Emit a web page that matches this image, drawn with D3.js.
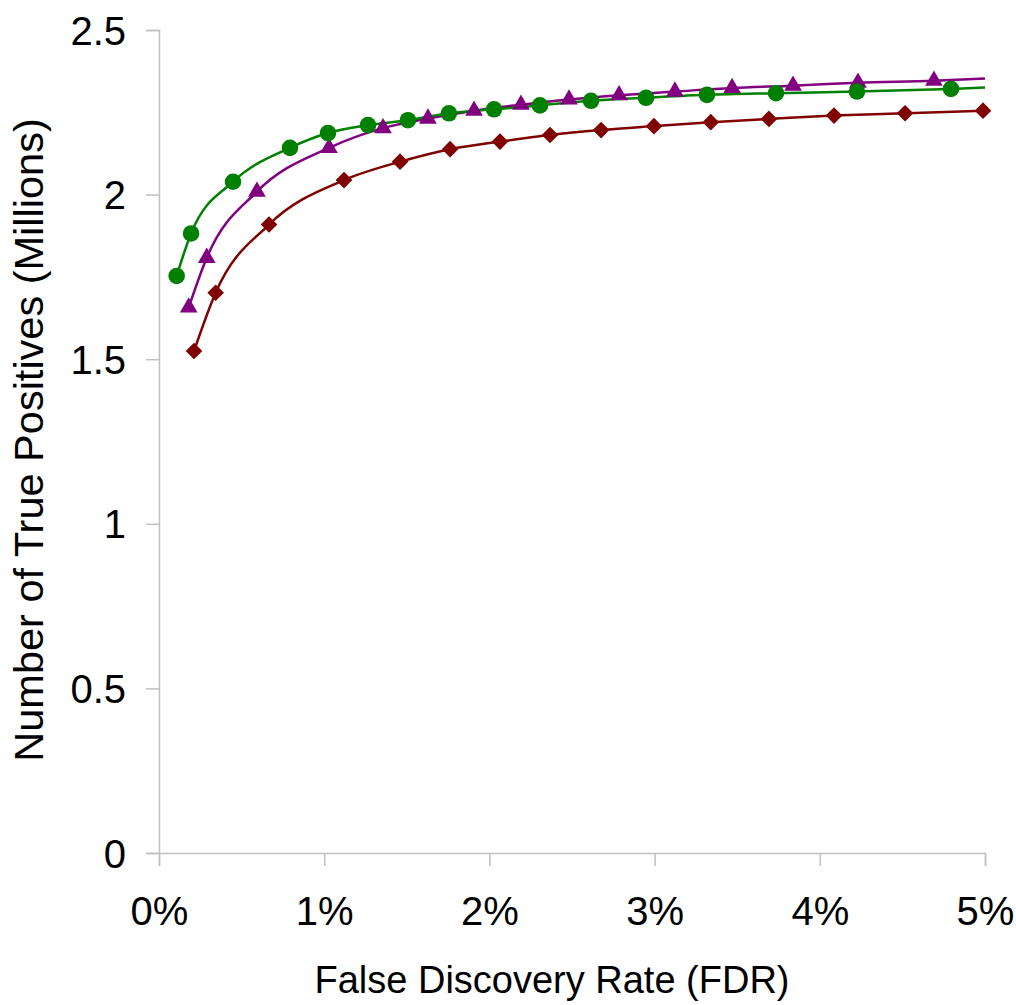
<!DOCTYPE html>
<html>
<head>
<meta charset="utf-8">
<script src="https://cdn.jsdelivr.net/npm/d3@7"></script>
<style>
  body { margin: 0; background: #fff; }
  text { font-family: "Liberation Sans", Arial, sans-serif; fill: #000; }
</style>
</head>
<body>
<script>
// FDR (in procenten) en aantal true positives (miljoenen) per reeks
var groenFdr = [0.107, 0.194, 0.448, 0.793, 1.023, 1.265, 1.507, 1.755, 2.028, 2.306, 2.615, 2.948, 3.317, 3.735, 4.225, 4.794];
var groenTp  = [1.753, 1.882, 2.039, 2.142, 2.187, 2.211, 2.226, 2.247, 2.259, 2.271, 2.285, 2.294, 2.303, 2.308, 2.313, 2.321];

var paarsFdr = [0.180, 0.289, 0.593, 1.029, 1.356, 1.628, 1.907, 2.191, 2.482, 2.785, 3.123, 3.469, 3.838, 4.231, 4.691];
var paarsTp  = [1.657, 1.808, 2.009, 2.142, 2.202, 2.231, 2.255, 2.273, 2.289, 2.302, 2.313, 2.324, 2.331, 2.340, 2.346];

var roodFdr = [0.212, 0.343, 0.666, 1.120, 1.459, 1.762, 2.064, 2.367, 2.676, 2.996, 3.340, 3.692, 4.086, 4.516, 4.988];
var roodTp  = [1.525, 1.702, 1.909, 2.044, 2.100, 2.138, 2.161, 2.181, 2.196, 2.208, 2.220, 2.230, 2.240, 2.247, 2.255];

// de lijnen lopen door tot 5% (zonder marker)
var groenEinde = [5.0, 2.325];
var paarsEinde = [5.0, 2.353];

var xTicks = [0, 1, 2, 3, 4, 5];
var yTicks = [0, 0.5, 1, 1.5, 2, 2.5];

// stel hoogte en breedte vast
var breedte = 1016;
var hoogte = 1005;

var svg = d3.select("body")
    .append("svg")
    .attr("width", breedte)
    .attr("height", hoogte);

// schaalfuncties
var x = d3.scaleLinear().domain([0, 5]).range([159, 985]);
var y = d3.scaleLinear().domain([0, 2.5]).range([853, 30]);

// assen
var asX = d3.axisBottom(x)
    .tickValues(xTicks)
    .tickSize(13)
    .tickPadding(31)
    .tickFormat(function(d) { return d + "%"; });

var asY = d3.axisLeft(y)
    .tickValues(yTicks)
    .tickSize(13)
    .tickPadding(20)
    .tickFormat(function(d) { return d; });

var gX = svg.append("g")
    .attr("transform", "translate(0," + y(0) + ")")
    .call(asX);

var gY = svg.append("g")
    .attr("transform", "translate(" + x(0) + ",0)")
    .call(asY);

[gX, gY].forEach(function(g) {
  g.selectAll(".domain").attr("stroke", "#c0c0c0").attr("stroke-width", 1.5);
  g.selectAll(".tick line").attr("stroke", "#c0c0c0").attr("stroke-width", 1.5);
  g.selectAll(".tick text")
      .attr("font-size", "40px")
      .attr("font-family", "Liberation Sans, Arial, sans-serif")
      .attr("fill", "#000");
});
gX.selectAll(".tick text").attr("dy", "0.71em");
gY.selectAll(".tick text").attr("dy", "0.35em");

// astitels
svg.append("text")
    .attr("x", 552)
    .attr("y", 993)
    .attr("text-anchor", "middle")
    .attr("font-size", "38px")
    .text("False Discovery Rate (FDR)");

svg.append("text")
    .attr("transform", "translate(43,440) rotate(-90)")
    .attr("text-anchor", "middle")
    .attr("font-size", "41.5px")
    .text("Number of True Positives (Millions)");

// lijnen
var lijn = d3.line()
    .x(function(d) { return x(d[0]); })
    .y(function(d) { return y(d[1]); })
    .curve(d3.curveMonotoneX);

function punten(fdr, tp) {
  return fdr.map(function(d, i) { return [d, tp[i]]; });
}

var reeksen = [
  { kleur: "#800000", data: punten(roodFdr, roodTp), staart: null, vorm: "ruit" },
  { kleur: "#800080", data: punten(paarsFdr, paarsTp), staart: paarsEinde, vorm: "driehoek" },
  { kleur: "#008000", data: punten(groenFdr, groenTp), staart: groenEinde, vorm: "cirkel" }
];

reeksen.forEach(function(r) {
  var lijnData = r.staart ? r.data.concat([r.staart]) : r.data;
  svg.append("path")
      .datum(lijnData)
      .attr("fill", "none")
      .attr("stroke", r.kleur)
      .attr("stroke-width", 2.5)
      .attr("d", lijn);
});

// markers
reeksen.forEach(function(r) {
  var symbool;
  if (r.vorm === "cirkel") symbool = d3.symbol().type(d3.symbolCircle).size(215);
  else if (r.vorm === "driehoek") symbool = d3.symbol().type(d3.symbolTriangle).size(135);
  else symbool = d3.symbol().type(d3.symbolSquare).size(138);

  svg.append("g")
      .selectAll("path")
      .data(r.data)
      .enter().append("path")
      .attr("d", symbool)
      .attr("fill", r.kleur)
      .attr("transform", function(d) {
        return "translate(" + x(d[0]) + "," + y(d[1]) + ")" + (r.vorm === "ruit" ? " rotate(45)" : "");
      });
});
</script>
</body>
</html>
